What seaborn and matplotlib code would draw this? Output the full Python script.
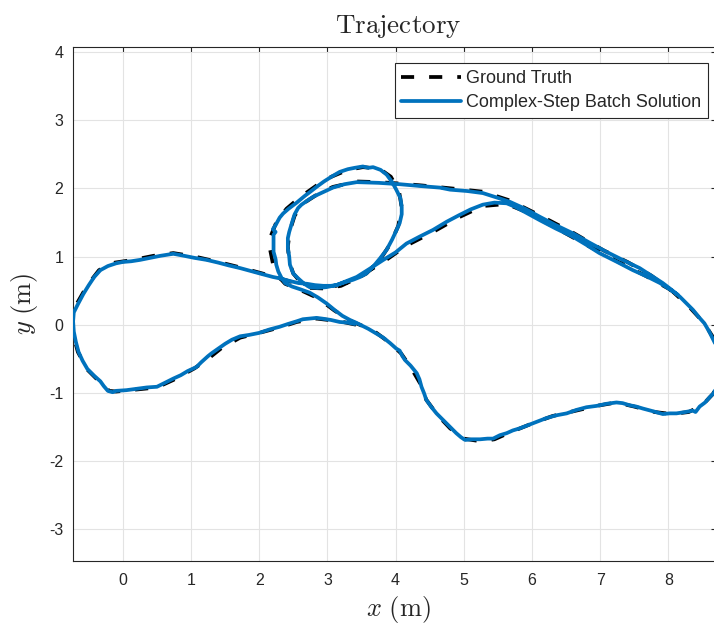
import numpy as np
import pandas as pd
import matplotlib
matplotlib.use("Agg")
import matplotlib.pyplot as plt
import seaborn as sns

# ---------------- data (metres) ----------------
gt_xy = [
    # start at the junction, left lobe (bottom -> left -> top)
    (3.42, 0.00), (3.18, 0.05), (2.84, 0.09), (2.55, 0.04), (2.30, -0.04), (2.00, -0.12),
    (1.72, -0.19), (1.45, -0.34), (1.25, -0.50), (1.05, -0.64), (0.74, -0.81), (0.50, -0.92),
    (0.20, -0.95), (-0.10, -0.98), (-0.20, -0.97), (-0.33, -0.85), (-0.52, -0.66), (-0.66, -0.40),
    (-0.74, -0.10), (-0.75, 0.10), (-0.68, 0.30), (-0.52, 0.58), (-0.35, 0.80), (-0.12, 0.91),
    (0.15, 0.95), (0.45, 1.01), (0.74, 1.05), (1.05, 1.00), (1.40, 0.92), (1.72, 0.84),
    (2.05, 0.75), (2.30, 0.68),
    # small loop
    (2.60, 0.59), (2.94, 0.55), (3.13, 0.57), (3.38, 0.65), (3.57, 0.75), (3.77, 0.95),
    (3.92, 1.18), (4.04, 1.45), (4.09, 1.72), (4.05, 1.96), (3.93, 2.17), (3.76, 2.29),
    (3.52, 2.31), (3.30, 2.27), (3.06, 2.17), (2.84, 2.04), (2.60, 1.87), (2.40, 1.70),
    (2.25, 1.50), (2.17, 1.30), (2.16, 1.10), (2.20, 0.90), (2.27, 0.72), (2.38, 0.60),
    # diagonal, bottom wave, right side
    (2.60, 0.51), (2.86, 0.39), (3.10, 0.21), (3.33, 0.06), (3.52, -0.02), (3.72, -0.12),
    (3.92, -0.27), (4.08, -0.42), (4.22, -0.62), (4.36, -0.86), (4.45, -1.10), (4.62, -1.33),
    (4.80, -1.52), (5.00, -1.67), (5.25, -1.71), (5.45, -1.68), (5.70, -1.57), (6.00, -1.45),
    (6.30, -1.34), (6.65, -1.26), (6.95, -1.19), (7.24, -1.14), (7.50, -1.20), (7.80, -1.28),
    (8.05, -1.31), (8.30, -1.28), (8.50, -1.18), (8.66, -1.01), (8.76, -0.75), (8.77, -0.50),
    (8.68, -0.22),
    # upper strand back to the loop
    (8.52, 0.03), (8.30, 0.27), (8.05, 0.50), (7.75, 0.72), (7.40, 0.92), (7.05, 1.09),
    (6.60, 1.35), (6.12, 1.60), (5.68, 1.82), (5.28, 1.95), (4.80, 2.00), (4.40, 2.04),
    (4.06, 2.07), (3.75, 2.09), (3.43, 2.10), (3.08, 2.02), (2.85, 1.91), (2.65, 1.78),
    (2.52, 1.60), (2.45, 1.38), (2.42, 1.15), (2.44, 0.92), (2.50, 0.75), (2.60, 0.63),
    (2.74, 0.54),
    # lower strand to the end
    (2.98, 0.53), (3.20, 0.57), (3.43, 0.68), (3.82, 0.92), (4.16, 1.16), (4.55, 1.36),
    (4.94, 1.58), (5.28, 1.74), (5.63, 1.77), (5.90, 1.66), (6.35, 1.42), (6.80, 1.17),
    (7.25, 0.93), (7.68, 0.71), (8.02, 0.52), (8.14, 0.44),
]

est_xy = [
    (3.40, 0.01), (3.30, 0.03), (3.18, 0.04), (3.05, 0.07), (2.92, 0.09), (2.84, 0.10),
    (2.74, 0.09), (2.64, 0.08), (2.55, 0.05), (2.42, 0.01), (2.30, -0.03), (2.15, -0.07),
    (2.00, -0.12), (1.85, -0.15), (1.72, -0.17), (1.60, -0.22), (1.50, -0.28), (1.40, -0.35),
    (1.30, -0.42), (1.25, -0.46), (1.15, -0.55), (1.08, -0.62), (0.95, -0.68), (0.85, -0.74),
    (0.74, -0.79), (0.62, -0.85), (0.50, -0.91), (0.35, -0.92), (0.20, -0.94), (0.05, -0.96),
    (-0.10, -0.97), (-0.15, -0.99), (-0.22, -0.97), (-0.28, -0.90), (-0.33, -0.83),
    (-0.42, -0.75), (-0.52, -0.65), (-0.59, -0.53), (-0.65, -0.40), (-0.69, -0.25),
    (-0.72, -0.10), (-0.73, 0.05), (-0.72, 0.18), (-0.66, 0.30), (-0.58, 0.45), (-0.50, 0.58),
    (-0.42, 0.70), (-0.33, 0.80), (-0.22, 0.86), (-0.10, 0.90), (0.00, 0.92), (0.12, 0.93),
    (0.25, 0.95), (0.40, 0.98), (0.55, 1.01), (0.74, 1.04), (0.90, 1.01), (1.05, 0.98),
    (1.23, 0.95), (1.40, 0.91), (1.55, 0.87), (1.72, 0.83), (1.90, 0.78), (2.05, 0.74),
    (2.20, 0.70), (2.30, 0.68),
    (2.45, 0.64), (2.58, 0.61), (2.70, 0.60), (2.82, 0.58), (2.94, 0.57), (3.05, 0.57),
    (3.13, 0.58), (3.25, 0.62), (3.38, 0.66), (3.48, 0.70), (3.57, 0.75), (3.67, 0.85),
    (3.77, 0.97), (3.87, 1.10), (3.95, 1.25), (4.02, 1.40), (4.06, 1.49), (4.09, 1.62),
    (4.09, 1.73), (4.07, 1.86), (4.01, 1.98), (3.95, 2.09), (3.87, 2.20), (3.78, 2.27),
    (3.67, 2.31), (3.60, 2.30), (3.52, 2.32), (3.40, 2.30), (3.30, 2.28), (3.18, 2.24),
    (3.06, 2.17), (2.95, 2.10), (2.84, 2.02), (2.75, 1.95), (2.67, 1.89), (2.55, 1.79),
    (2.43, 1.70), (2.35, 1.63), (2.30, 1.57), (2.24, 1.46), (2.20, 1.40), (2.24, 1.36),
    (2.21, 1.32), (2.21, 1.20), (2.21, 1.07), (2.24, 0.96), (2.25, 0.88), (2.28, 0.78),
    (2.33, 0.68), (2.38, 0.61),
    (2.48, 0.56), (2.60, 0.52), (2.74, 0.47), (2.86, 0.40), (2.99, 0.31), (3.10, 0.22),
    (3.22, 0.13), (3.33, 0.07), (3.42, 0.03), (3.48, 0.00), (3.60, -0.06), (3.72, -0.13),
    (3.82, -0.19), (3.92, -0.27), (4.01, -0.35), (4.06, -0.38), (4.10, -0.46), (4.14, -0.52),
    (4.22, -0.60), (4.31, -0.71), (4.35, -0.80), (4.38, -0.91), (4.42, -1.01), (4.45, -1.10),
    (4.52, -1.20), (4.60, -1.30), (4.68, -1.38), (4.75, -1.45), (4.82, -1.52), (4.89, -1.59),
    (4.96, -1.65), (5.02, -1.69), (5.12, -1.68), (5.24, -1.68), (5.35, -1.67), (5.43, -1.67),
    (5.53, -1.62), (5.63, -1.59), (5.72, -1.55), (5.82, -1.52), (5.95, -1.47), (6.08, -1.42),
    (6.21, -1.37), (6.35, -1.33), (6.51, -1.30), (6.65, -1.25), (6.80, -1.21), (6.95, -1.19),
    (7.09, -1.16), (7.24, -1.14), (7.33, -1.15), (7.43, -1.18), (7.53, -1.20), (7.63, -1.23),
    (7.78, -1.27), (7.92, -1.31), (8.02, -1.30), (8.12, -1.30), (8.25, -1.28), (8.36, -1.26),
    (8.40, -1.28), (8.46, -1.20), (8.54, -1.14), (8.61, -1.06), (8.66, -1.01), (8.72, -0.90),
    (8.77, -0.72), (8.78, -0.55), (8.74, -0.38), (8.66, -0.22),
    (8.60, -0.10), (8.53, 0.02), (8.45, 0.11), (8.36, 0.22), (8.27, 0.31), (8.17, 0.41),
    (8.05, 0.51), (7.92, 0.61), (7.75, 0.72), (7.58, 0.83), (7.35, 0.94), (7.09, 1.07),
    (6.85, 1.20), (6.60, 1.34), (6.35, 1.46), (6.12, 1.58), (5.90, 1.70), (5.68, 1.80),
    (5.50, 1.86), (5.28, 1.93), (5.05, 1.96), (4.80, 1.98), (4.65, 2.01), (4.40, 2.03),
    (4.06, 2.06), (3.75, 2.08), (3.43, 2.09), (3.25, 2.06), (3.08, 2.01), (2.91, 1.93),
    (2.80, 1.88), (2.72, 1.83), (2.62, 1.76), (2.57, 1.71), (2.52, 1.62), (2.50, 1.56),
    (2.47, 1.46), (2.44, 1.36), (2.42, 1.27), (2.42, 1.12), (2.44, 1.00), (2.45, 0.88),
    (2.50, 0.75), (2.57, 0.68), (2.66, 0.60), (2.74, 0.55),
    (2.85, 0.54), (2.98, 0.55), (3.13, 0.58), (3.28, 0.64), (3.43, 0.70), (3.62, 0.82),
    (3.82, 0.95), (4.00, 1.06), (4.16, 1.19), (4.35, 1.29), (4.55, 1.39), (4.75, 1.51),
    (4.94, 1.61), (5.10, 1.69), (5.28, 1.76), (5.45, 1.79), (5.63, 1.78), (5.75, 1.73),
    (5.90, 1.65), (6.12, 1.53), (6.35, 1.41), (6.60, 1.29), (6.80, 1.17), (6.99, 1.05),
    (7.25, 0.92), (7.48, 0.80), (7.68, 0.71), (7.88, 0.61), (8.02, 0.52), (8.14, 0.44),
]

series_labels = ["Ground Truth", "Complex-Step Batch Solution"]
x_ticks = [0, 1, 2, 3, 4, 5, 6, 7, 8]
y_ticks = [-3, -2, -1, 0, 1, 2, 3, 4]

# ---------------- style ----------------
sns.set_style("white")
plt.rcParams["font.family"] = ["Liberation Sans", "DejaVu Sans"]
plt.rcParams["mathtext.fontset"] = "cm"
plt.rcParams["axes.unicode_minus"] = False

W, H = 714, 625
fig = plt.figure(figsize=(W / 100, H / 100), dpi=100)
ax_l, ax_r, ax_t, ax_b = 72.9, 716.0, 46.7, 560.7
ax = fig.add_axes([ax_l / W, 1 - ax_b / H, (ax_r - ax_l) / W, (ax_b - ax_t) / H])

gt = pd.DataFrame(gt_xy, columns=["x", "y"])
est = pd.DataFrame(est_xy, columns=["x", "y"])

LW = 2.7
sns.lineplot(data=gt, x="x", y="y", sort=False, estimator=None, ax=ax,
             color="black", lw=LW, linestyle=(0, (3.5, 4.0)),
             dash_capstyle="butt", zorder=3)
sns.lineplot(data=est, x="x", y="y", sort=False, estimator=None, ax=ax,
             color="#0072BD", lw=LW, solid_joinstyle="round",
             solid_capstyle="round", zorder=4)

ax.set_xlim(-0.733, 8.70)
ax.set_ylim(-3.46, 4.076)
ax.set_xticks(x_ticks)
ax.set_yticks(y_ticks)
ax.set_xticklabels([str(v) for v in x_ticks])
ax.set_yticklabels([str(v) for v in y_ticks])
ax.set_xlabel("")
ax.set_ylabel("")

axc = "#262626"
ax.grid(True, color="#e3e3e3", lw=0.8)
ax.set_axisbelow(True)
for s in ax.spines.values():
    s.set_color(axc)
    s.set_linewidth(0.8)
    s.set_visible(True)
ax.tick_params(axis="both", direction="in", length=3.8, width=0.8, color=axc,
               labelcolor=axc, labelsize=11.5, top=True, right=True)
ax.tick_params(axis="x", pad=9)
ax.tick_params(axis="y", pad=7)

lines = ax.get_lines()
leg = ax.legend(lines[:2], series_labels, loc="upper right",
                bbox_to_anchor=(708 / W, 1 - 63 / H), bbox_transform=fig.transFigure,
                borderaxespad=0, fontsize=13, handlelength=3.3, handletextpad=0.28,
                borderpad=0.38, labelspacing=0.42, fancybox=False, framealpha=1,
                edgecolor=axc)
leg.get_frame().set_linewidth(0.8)

cx = 398 / W
fig.text(cx, 1 - 33 / H, r"$\mathrm{Trajectory}$", ha="center", va="baseline",
         fontsize=19.5)
fig.text(cx, 1 - 616 / H, r"$x\ (\mathrm{m})$", ha="center", va="baseline",
         fontsize=19)
fig.text(24 / W, 1 - 304 / H, r"$y\ (\mathrm{m})$", ha="center", va="center",
         rotation=90, fontsize=19)

fig.savefig("out.png", dpi=100)
